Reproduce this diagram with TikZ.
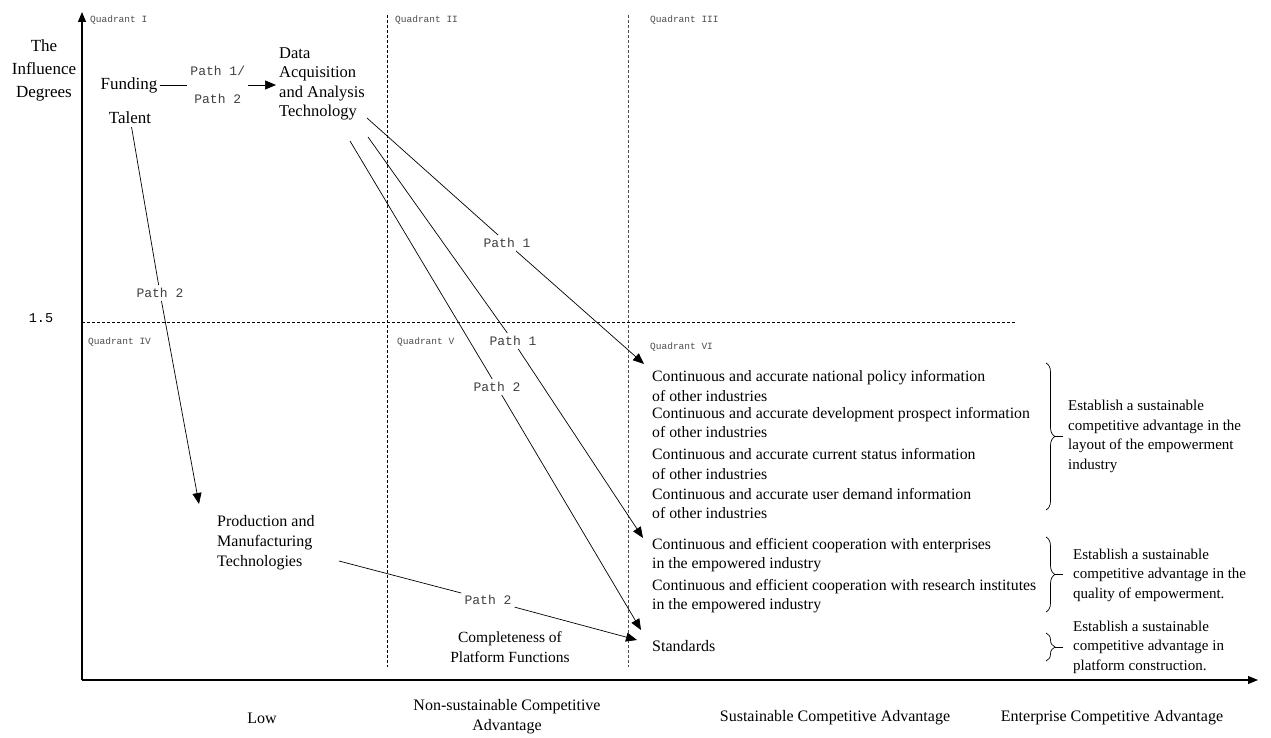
\documentclass[tikz,border=0pt]{standalone}
\usepackage{fontspec}
\setmainfont{Liberation Serif}
\setmonofont{Liberation Mono}
\usepackage{xcolor}
\usepackage{tikz}
\usetikzlibrary{arrows.meta,decorations.pathreplacing}

\begin{document}
\begin{tikzpicture}[x=1pt,y=1pt]
\tikzstyle{every node}+=[inner sep=0pt, font=\fontsize{15.8}{19.5}\selectfont]
\tikzstyle{big}=[font=\fontsize{17}{23}\selectfont]
\tikzstyle{quad}=[anchor=west, text=black!70, font=\ttfamily\fontsize{9.5}{10}\selectfont]
\tikzstyle{pathlbl}=[fill=white, inner sep=3pt, text=black!75, font=\ttfamily\fontsize{13}{14}\selectfont]
\tikzstyle{conn}=[black, line width=0.7pt]
\tikzstyle{arr}=[conn, -{Triangle[length=11pt,width=9pt]}]
\tikzstyle{axis}=[black, line width=1.1pt, -{Triangle[length=10pt,width=8pt]}]
\tikzstyle{grid}=[line width=0.7pt, dash pattern=on 3pt off 2pt]
\tikzstyle{brc}=[line width=0.7pt, decorate, decoration={brace,amplitude=9pt}]
\tikzstyle{item}=[anchor=west, align=left]
\useasboundingbox (0,0) rectangle (1271,-738);
\draw [axis] (82,-680) -- (82,-12);
\draw [axis] (82,-680) -- (1258,-680);
\draw [grid] (387,-15) -- (387,-667);
\draw [grid, black!70] (628,-15) -- (628,-667);
\draw [grid] (82,-322) -- (1015,-322);
\node [big, align=center] (ylabel) at (44,-70) {The\\Influence\\Degrees};
\node [font=\ttfamily\fontsize{13.5}{14}\selectfont] (tick) at (41,-318) {1.5};
\node [quad] (q1) at (90,-20) {Quadrant I};
\node [quad] (q2) at (395,-20) {Quadrant II};
\node [quad] (q3) at (650,-20) {Quadrant III};
\node [quad] (q4) at (88,-342) {Quadrant IV};
\node [quad] (q5) at (397,-342) {Quadrant V};
\node [quad] (q6) at (650,-347) {Quadrant VI};
\node [big, inner sep=2pt] (fund) at (129,-85) {Funding};
\node [big, inner sep=3pt] (talent) at (130,-118) {Talent};
\node [item, inner sep=3pt, font=\fontsize{16.5}{19.5}\selectfont] (data) at (276,-84) {Data\\Acquisition\\and Analysis\\Technology};
\node [item, font=\fontsize{16}{20}\selectfont] (prod) at (217,-543) {Production and\\Manufacturing\\Technologies};
\node [align=center, font=\fontsize{15.5}{20}\selectfont] (compl) at (510,-647) {Completeness of\\Platform Functions};
\node [item] (info1) at (652,-386) {Continuous and accurate national policy information\\of other industries};
\node [item] (info2) at (652,-422.5) {Continuous and accurate development prospect information\\of other industries};
\node [item] (info3) at (652,-464) {Continuous and accurate current status information\\of other industries};
\node [item] (info4) at (652,-503.5) {Continuous and accurate user demand information\\of other industries};
\node [item] (coop1) at (652,-555) {Continuous and efficient cooperation with enterprises\\in the empowered industry};
\node [item] (coop2) at (652,-596) {Continuous and efficient cooperation with research institutes\\in the empowered industry};
\node [item, font=\fontsize{16}{20}\selectfont] (std) at (652,-646) {Standards};
\node [item, font=\fontsize{15}{19.5}\selectfont] (est1) at (1068,-436.5) {Establish a sustainable\\competitive advantage in the\\layout of the empowerment\\industry};
\node [item, font=\fontsize{15}{19.5}\selectfont] (est2) at (1073,-575) {Establish a sustainable\\competitive advantage in the\\quality of empowerment.};
\node [item, font=\fontsize{15}{19.5}\selectfont] (est3) at (1073,-647) {Establish a sustainable\\competitive advantage in\\platform construction.};
\draw [brc] (1046,-363) -- (1046,-510);
\draw [conn] (1055,-436.5) -- (1063,-436.5);
\draw [brc] (1046,-537) -- (1046,-612);
\draw [conn] (1055,-574.5) -- (1063,-574.5);
\draw [brc] (1046,-633) -- (1046,-661);
\draw [conn] (1055,-647) -- (1063,-647);
\node [font=\fontsize{16}{20}\selectfont] (low) at (262,-718) {Low};
\node [align=center, font=\fontsize{16}{20}\selectfont] (nsca) at (507,-717) {Non-sustainable Competitive\\Advantage};
\node [font=\fontsize{16}{20}\selectfont] (sca) at (835,-718) {Sustainable Competitive Advantage};
\node [font=\fontsize{16}{20}\selectfont] (eca) at (1112,-718) {Enterprise Competitive Advantage};
\draw [arr] (fund.east) -- node [pathlbl, align=center, font=\ttfamily\fontsize{13}{28}\selectfont] (lblF) {Path 1/\\Path 2} (fund.east -| data.west);
\node [pathlbl] (lblA) at (507,-243) {Path 1};
\node [pathlbl] (lblB) at (513,-341) {Path 1};
\node [pathlbl] (lblC) at (497,-387) {Path 2};
\node [pathlbl] (lblT) at (160,-293) {Path 2};
\node [pathlbl] (lblP) at (488,-600) {Path 2};
\coordinate (d1) at (367,-118);
\coordinate (d2) at (368,-137);
\coordinate (d3) at (350,-141);
\coordinate (p0) at (339,-561);
\coordinate (t1) at (644,-364);
\coordinate (t2) at (643,-538);
\coordinate (t3) at (641,-630);
\coordinate (tT) at (199,-504);
\coordinate (tP) at (637,-640);
\draw [conn] (d1) -- (lblA);
\draw [arr] (lblA) -- (t1);
\draw [conn] (d2) -- (lblB);
\draw [arr] (lblB) -- (t2);
\draw [conn] (d3) -- (lblC);
\draw [arr] (lblC) -- (t3);
\draw [conn] (talent) -- (lblT);
\draw [arr] (lblT) -- (tT);
\draw [conn] (p0) -- (lblP);
\draw [arr] (lblP) -- (tP);
\end{tikzpicture}
\end{document}
